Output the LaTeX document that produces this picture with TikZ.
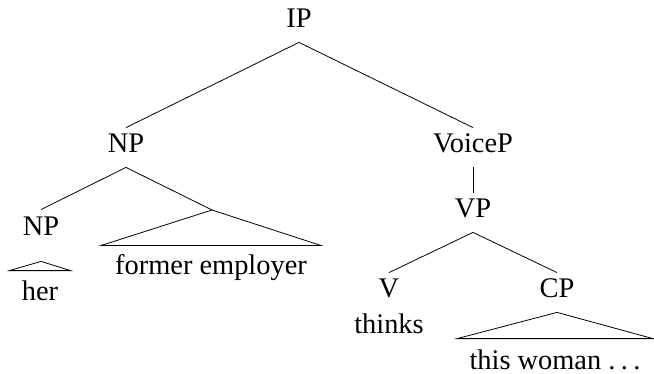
\documentclass[tikz,border=0pt]{standalone}
\usepackage{fontspec}
\setmainfont{Liberation Serif}
\usepackage{tikz}

\begin{document}
\begin{tikzpicture}[x=0.5pt, y=-0.5pt,
	every node/.style={font=\fontsize{14.2}{17}\selectfont, inner sep=0pt, text height=12.5pt, text depth=7pt, anchor=base},
	roof/.style={line join=miter}]
	\useasboundingbox (0,0) rectangle (654,374);

	\node (ip) at (299,28) {IP};
	\node (np) at (126,153) {NP};
	\node (voicep) at (473,153) {VoiceP};
	\node (nphead) at (41,235) {NP};
	\coordinate (nbar) at (212,210);
	\node (her) at (40,300) {her};
	\node (employer) at (211,275) {former employer};
	\node (vp) at (473,218) {VP};
	\node (v) at (389,298) {V};
	\node (cp) at (557,298) {CP};
	\node (thinks) at (389,333) {thinks};
	\node[text depth=0pt] (woman) at (555,369) {this woman .\kern0.19em.\kern0.19em.};

	\draw (ip.south) -- (np.north);
	\draw (ip.south) -- (voicep.north);
	\draw (np.south) -- (nphead.north);
	\draw (np.south) -- (nbar);
	\draw (voicep.south) -- (vp.north);
	\draw (vp.south) -- (v.north);
	\draw (vp.south) -- (cp.north);

	% roofs over the unanalysed constituents
	\draw[roof] ([yshift=-6pt]nphead.south) -- ([xshift=6pt, yshift=2pt]her.north east) -- ([xshift=-6pt, yshift=2pt]her.north west) -- cycle;
	\draw[roof] (nbar) -- ([xshift=7pt, yshift=2pt]employer.north east) -- ([xshift=-7pt, yshift=2pt]employer.north west) -- cycle;
	\draw[roof] (cp.south) -- ([xshift=6pt, yshift=2.5pt]woman.north east) -- ([xshift=-6pt, yshift=2.5pt]woman.north west) -- cycle;
\end{tikzpicture}
\end{document}
